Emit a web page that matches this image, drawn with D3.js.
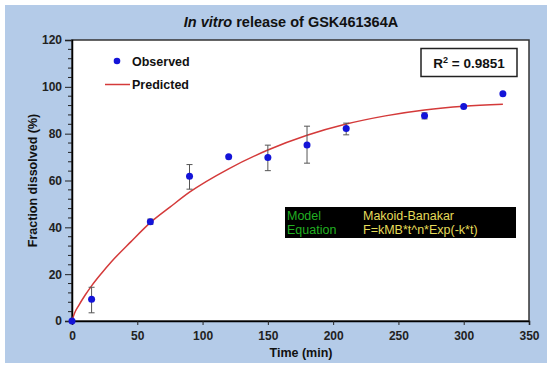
<!DOCTYPE html>
<html>
<head>
<meta charset="utf-8">
<script src="https://cdn.jsdelivr.net/npm/d3@7"></script>
<style>
  body { margin: 0; background: #fff; }
  svg { display: block; font-family: "Liberation Sans", Arial, sans-serif; }
</style>
</head>
<body>
<div id="chart"></div>
<script>
// observed release data (time in min, % dissolved, error bar ends)
const obsTime = [0, 15, 60, 90, 120, 150, 180, 210, 270, 300, 330];
const obsValue = [0, 9.3, 42.4, 61.8, 70.1, 69.8, 75.2, 82.2, 87.6, 91.6, 97.0];
const obsLow = [0, 3.5, 41.3, 56.3, 70.1, 64.2, 67.4, 79.5, 86.3, 91.6, 97.0];
const obsHigh = [0, 14.4, 43.5, 66.8, 70.1, 75.1, 83.2, 84.5, 88.9, 91.6, 97.0];

// predicted curve
const predTime = [0, 2, 5, 10, 15, 22.5, 30, 45, 60, 75, 90, 120, 150, 180, 210, 240, 270, 300, 330];
const predValue = [0, 3.4, 6.5, 11, 15, 20.3, 25.2, 33.8, 42, 48.6, 55, 65, 73, 79.3, 84.1, 87.6, 90.1, 91.7, 92.6];

const xTicks = [0, 50, 100, 150, 200, 250, 300, 350];
const yTicks = [0, 20, 40, 60, 80, 100, 120];

const width = 550, height = 373;
const margin = {left: 72, right: 21, top: 40, bottom: 52};

const svg = d3.select("#chart").append("svg")
    .attr("width", width)
    .attr("height", height);

// blue panel
svg.append("rect")
    .attr("x", 5).attr("y", 5)
    .attr("width", 542).attr("height", 358)
    .attr("fill", "#b4cbe8");

const x = d3.scaleLinear().domain([0, 350]).range([margin.left, width - margin.right]);
const y = d3.scaleLinear().domain([0, 120]).range([height - margin.bottom, margin.top]);

// plot area
svg.append("rect")
    .attr("x", x(0)).attr("y", y(120))
    .attr("width", x(350) - x(0)).attr("height", y(0) - y(120))
    .attr("fill", "#fff")
    .attr("stroke", "#333")
    .attr("stroke-width", 1.5);

// minor y ticks
const minor = d3.range(0, 121, 4).filter(v => v % 20 !== 0);
svg.append("g").selectAll("line")
    .data(minor)
    .join("line")
    .attr("x1", x(0) - 4).attr("x2", x(0))
    .attr("y1", d => y(d)).attr("y2", d => y(d))
    .attr("stroke", "#222");

const yAxis = svg.append("g")
    .attr("transform", `translate(${x(0)},0)`)
    .call(d3.axisLeft(y).tickValues(yTicks).tickSize(7).tickPadding(3));

const xAxis = svg.append("g")
    .attr("transform", `translate(0,${y(0)})`)
    .call(d3.axisBottom(x).tickValues(xTicks).tickSize(4).tickPadding(6));

[xAxis, yAxis].forEach(a => {
  a.select(".domain").attr("stroke", "#000").attr("stroke-width", 1.5);
  a.selectAll(".tick line").attr("stroke", "#222");
  a.selectAll("text")
      .attr("font-size", 12)
      .attr("font-weight", "bold")
      .attr("fill", "#222")
      .attr("font-family", "Liberation Sans, Arial, sans-serif");
});

// title
const title = svg.append("text")
    .attr("x", 291).attr("y", 27)
    .attr("text-anchor", "middle")
    .attr("font-size", 14.5)
    .attr("font-weight", "bold")
    .attr("fill", "#111");
title.append("tspan").attr("font-style", "italic").text("In vitro");
title.append("tspan").text(" release of GSK461364A");

// axis labels
svg.append("text")
    .attr("x", 301).attr("y", 357)
    .attr("text-anchor", "middle")
    .attr("font-size", 12.5)
    .attr("font-weight", "bold")
    .attr("fill", "#111")
    .text("Time (min)");

svg.append("text")
    .attr("transform", `translate(37,${(y(0) + y(120)) / 2}) rotate(-90)`)
    .attr("text-anchor", "middle")
    .attr("font-size", 12.5)
    .attr("font-weight", "bold")
    .attr("fill", "#111")
    .text("Fraction dissolved (%)");

// predicted curve
const line = d3.line()
    .x((d, i) => x(predTime[i]))
    .y(d => y(d))
    .curve(d3.curveMonotoneX);

svg.append("path")
    .datum(predValue)
    .attr("d", line)
    .attr("fill", "none")
    .attr("stroke", "#d43a3a")
    .attr("stroke-width", 1.5);

// error bars
const obs = obsTime.map((t, i) => ({t, v: obsValue[i], lo: obsLow[i], hi: obsHigh[i]}));
const eb = svg.append("g")
    .attr("stroke", "#555")
    .attr("stroke-width", 1)
    .selectAll("g")
    .data(obs.filter(d => d.hi - d.lo > 0))
    .join("g");
eb.append("line")
    .attr("x1", d => x(d.t)).attr("x2", d => x(d.t))
    .attr("y1", d => y(d.lo)).attr("y2", d => y(d.hi));
eb.append("line")
    .attr("x1", d => x(d.t) - 3).attr("x2", d => x(d.t) + 3)
    .attr("y1", d => y(d.lo)).attr("y2", d => y(d.lo));
eb.append("line")
    .attr("x1", d => x(d.t) - 3).attr("x2", d => x(d.t) + 3)
    .attr("y1", d => y(d.hi)).attr("y2", d => y(d.hi));

// observed points
svg.append("g").selectAll("circle")
    .data(obs)
    .join("circle")
    .attr("cx", d => x(d.t))
    .attr("cy", d => y(d.v))
    .attr("r", 3.5)
    .attr("fill", "#1414d8");

// legend
svg.append("circle").attr("cx", 117).attr("cy", 61).attr("r", 3.3).attr("fill", "#1414d8");
svg.append("line")
    .attr("x1", 105).attr("x2", 130).attr("y1", 84.5).attr("y2", 84.5)
    .attr("stroke", "#d43a3a").attr("stroke-width", 1.5);
svg.append("text").attr("x", 132).attr("y", 65.5)
    .attr("font-size", 12.5).attr("font-weight", "bold").attr("fill", "#111")
    .text("Observed");
svg.append("text").attr("x", 132).attr("y", 89)
    .attr("font-size", 12.5).attr("font-weight", "bold").attr("fill", "#111")
    .text("Predicted");

// R squared box
svg.append("rect")
    .attr("x", 421).attr("y", 48.5)
    .attr("width", 96).attr("height", 28)
    .attr("fill", "#fff").attr("stroke", "#222").attr("stroke-width", 1.5);
const r2 = svg.append("text")
    .attr("x", 469).attr("y", 67.5)
    .attr("text-anchor", "middle")
    .attr("font-size", 13.5)
    .attr("font-weight", "bold")
    .attr("fill", "#111");
r2.append("tspan").text("R");
r2.append("tspan").attr("font-size", 9).attr("dy", -5).text("2");
r2.append("tspan").attr("dy", 5).text(" = 0.9851");

// model box
svg.append("rect")
    .attr("x", 285).attr("y", 207)
    .attr("width", 231).attr("height", 31)
    .attr("fill", "#000");
const modelLabels = ["Model", "Equation"];
const modelValues = ["Makoid-Banakar", "F=kMB*t^n*Exp(-k*t)"];
svg.append("g").selectAll("text")
    .data(modelLabels)
    .join("text")
    .attr("x", 287).attr("y", (d, i) => 220 + i * 13.5)
    .attr("font-size", 12.5)
    .attr("fill", "#22b022")
    .text(d => d);
svg.append("g").selectAll("text")
    .data(modelValues)
    .join("text")
    .attr("x", 363).attr("y", (d, i) => 220 + i * 13.5)
    .attr("font-size", 12.5)
    .attr("fill", "#e6dc5a")
    .text(d => d);
</script>
</body>
</html>
